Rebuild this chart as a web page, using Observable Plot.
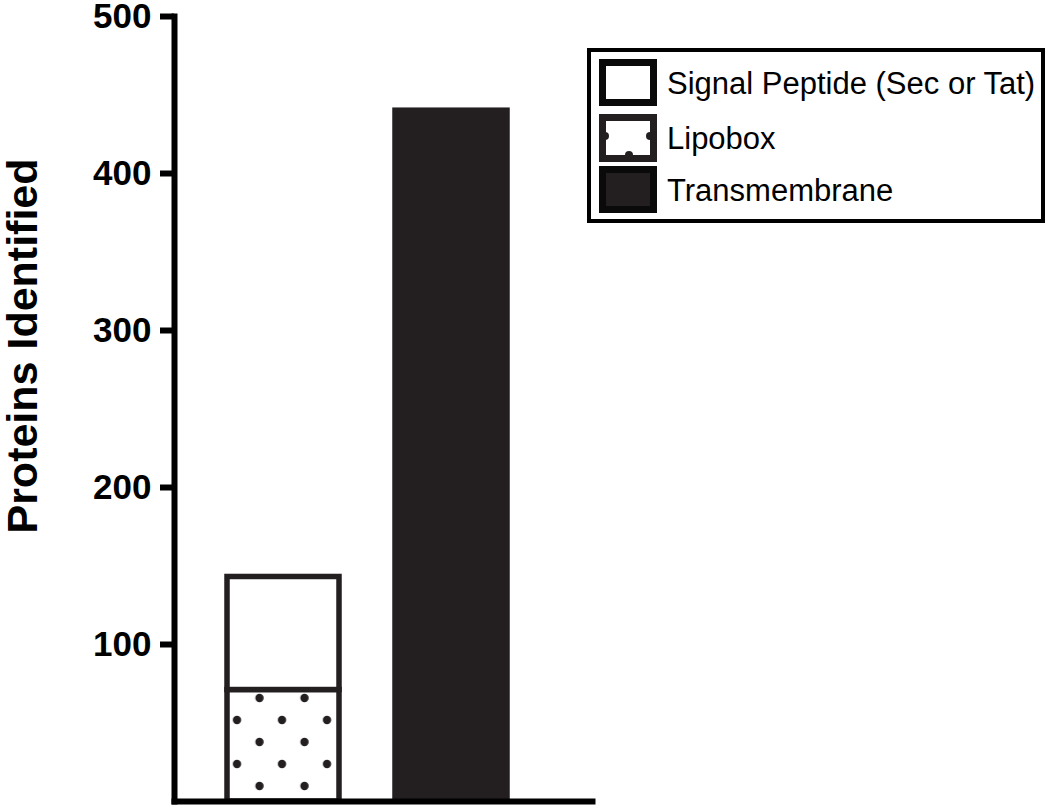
<!DOCTYPE html>
<html>
<head>
<meta charset="utf-8">
<script src="https://cdn.jsdelivr.net/npm/d3@7"></script>
<script src="https://cdn.jsdelivr.net/npm/@observablehq/plot@0.6"></script>
<style>
  html, body { margin: 0; padding: 0; background: #fff; }
  #wrap { position: relative; width: 1050px; height: 805px; font-family: "Liberation Sans", Arial, sans-serif; }
  #legend { position: absolute; left: 587px; top: 48px; }
</style>
</head>
<body>
<div id="wrap">
  <div id="chart"></div>
  <div id="legend"></div>
</div>
<script>
// ---- data ----
const groups = ["Exported", "Membrane"];
const types = ["Lipobox", "Signal Peptide (Sec or Tat)", "Transmembrane"];
const groupOfType = ["Exported", "Exported", "Membrane"];
const counts = [71, 72, 440];
const legendOrder = ["Signal Peptide (Sec or Tat)", "Lipobox", "Transmembrane"];
const yTicks = [100, 200, 300, 400, 500];
const fills = ["url(#dots)", "#ffffff", "#231f20"];

const rows = types.map((t, i) => ({group: groupOfType[i], type: t, value: counts[i]}));

const dark = "#231f20";

const plot = Plot.plot({
  width: 1050,
  height: 805,
  marginLeft: 174,
  marginRight: 458,
  marginTop: 16,
  marginBottom: 4,
  style: {fontFamily: "'Liberation Sans', Arial, sans-serif", background: "transparent", overflow: "visible"},
  x: {type: "band", domain: groups, paddingInner: 0.335, paddingOuter: 0.408, align: 0.382, axis: null},
  y: {domain: [0, 500], axis: null},
  color: {domain: types, range: fills},
  marks: [
    Plot.barY(rows, Plot.stackY({
      x: "group", y: "value", fill: "type", order: types,
      stroke: dark, strokeWidth: 5.5
    })),
    Plot.axisY({
      ticks: yTicks, tickSize: 14, tickPadding: 9, strokeWidth: 6, stroke: "#000",
      fontSize: 35, fontWeight: "bold", fill: "#000", label: null
    }),
    Plot.text(["Proteins Identified"], {
      frameAnchor: "left", textAnchor: "middle", text: d => d, rotate: -90, dx: -151, dy: -63,
      fontSize: 43, fontWeight: "bold", fill: "#000"
    }),
    Plot.frame({anchor: "left", stroke: "#000", strokeWidth: 6}),
    Plot.frame({anchor: "bottom", stroke: "#000", strokeWidth: 6})
  ]
});

// dots pattern for the Lipobox segment
const ns = "http://www.w3.org/2000/svg";
const defs = document.createElementNS(ns, "defs");
defs.innerHTML = `<pattern id="dots" patternUnits="userSpaceOnUse" x="225.75" y="687" width="45" height="44">
  <rect width="45" height="44" fill="#fff"/>
  <circle cx="33.75" cy="11" r="4.2" fill="${dark}"/>
  <circle cx="11.25" cy="33" r="4.2" fill="${dark}"/>
</pattern>`;
plot.insertBefore(defs, plot.firstChild);
document.getElementById("chart").appendChild(plot);

// legend
const swatchSvg = {
  "Signal Peptide (Sec or Tat)": `<rect x="3.5" y="3.5" width="51" height="40" fill="#fff" stroke="#0a0a0a" stroke-width="7"/>`,
  "Lipobox": `<rect x="3.5" y="3.5" width="51" height="41" fill="#fff" stroke="${dark}" stroke-width="7"/>
     <circle cx="6" cy="22" r="4" fill="${dark}"/><circle cx="51" cy="22" r="4" fill="${dark}"/><circle cx="30" cy="41" r="4" fill="${dark}"/>`,
  "Transmembrane": `<rect x="3.5" y="3.5" width="51" height="40" fill="${dark}" stroke="#0a0a0a" stroke-width="7"/>`
};
const legend = d3.select("#legend").append("svg").attr("width", 458).attr("height", 175);
legend.append("rect").attr("x", 2).attr("y", 2).attr("width", 454).attr("height", 171)
  .attr("fill", "#fff").attr("stroke", "#000").attr("stroke-width", 4);
const tops = [11, 66, 118];
legendOrder.forEach((t, i) => {
  const g = legend.append("g").attr("transform", `translate(12,${tops[i]})`);
  g.html(swatchSvg[t]);
  legend.append("text").attr("x", 80).attr("y", tops[i] + 24).attr("dominant-baseline", "central")
    .attr("font-family", "'Liberation Sans', Arial, sans-serif").attr("font-size", 31).attr("fill", "#000")
    .text(t);
});
</script>
</body>
</html>
